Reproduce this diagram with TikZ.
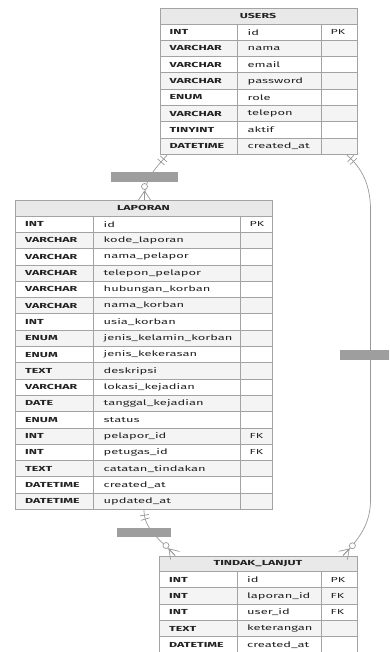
\documentclass[tikz,border=0pt]{standalone}
\usepackage{fontspec}
\setmainfont{Fira Sans}[FakeStretch=1.7]
\usetikzlibrary{calc,decorations.markings}
\definecolor{hdrfill}{HTML}{E9E9E9}
\definecolor{altfill}{HTML}{F4F4F4}
\definecolor{bordc}{HTML}{A3A3A3}
\definecolor{linkc}{HTML}{999999}
\definecolor{lblc}{HTML}{9E9E9E}
\definecolor{txtc}{HTML}{222222}
\tikzset{
 cell/.style={inner sep=0pt, text=txtc, font=\fontsize{7.3}{8}\selectfont, anchor=west},
 namecell/.style={cell, font=\fontsize{7.6}{8}\selectfont},
 typecell/.style={cell, font=\fontsize{7.3}{8}\selectfont\bfseries},
 titlecell/.style={inner sep=0pt, text=txtc, font=\fontsize{7.3}{8}\selectfont\bfseries},
 tabframe/.style={draw=bordc, line width=0.8pt, inner sep=0pt, anchor=north west},
 rel/.style={draw=linkc, line width=0.7pt},
 onestart/.style={postaction={decorate, decoration={markings,
   mark=at position 5pt with {\draw[linkc, line width=0.7pt] (0,-4.5) -- (0,4.5);},
   mark=at position 9pt with {\draw[linkc, line width=0.7pt] (0,-4.5) -- (0,4.5);}}}},
 manyend/.style={postaction={decorate, decoration={markings,
   mark=at position 0.9999 with {\draw[linkc, line width=0.7pt] (-9,0) -- (0,6) (-9,0) -- (0,0) (-9,0) -- (0,-6);
     \draw[linkc, line width=0.7pt, fill=white] (-13.5,0) circle (3);}}}},
 lblbox/.style={fill=lblc, draw=none, inner sep=0pt},
}
\newcommand\ertable[9]{%
 \fill[hdrfill] (#3,#7) rectangle (#6,#7+16);
 \node[titlecell] (#1-title) at ({(#3+#6)/2},#7+8) {#2};
 \foreach \ty/\nm/\ky [count=\i] in {#9} {
   \pgfmathsetmacro\ya{#7+16+(\i-1)*16.3}
   \pgfmathsetmacro\yb{\ya+16.3}
   \pgfmathsetmacro\ym{\ya+8.15}
   \ifodd\i\relax\def\rc{white}\else\def\rc{altfill}\fi
   \fill[\rc] (#3,\ya) rectangle (#6,\yb);
   \draw[bordc, line width=0.8pt] (#3,\ya) -- (#6,\ya) (#4,\ya) -- (#4,\yb) (#5,\ya) -- (#5,\yb);
   \node[typecell] (#1-t\i) at (#3+10,\ym) {\ty};
   \node[namecell] (#1-n\i) at (#4+10,\ym) {\nm};
   \node[cell] (#1-k\i) at (#5+9,\ym) {\ky};
 }
 \node[tabframe, minimum width={(#6-#3)*1pt}, minimum height={(16+#8*16.3)*1pt}] (#1) at (#3,#7) {};
}
\begin{document}
\begin{tikzpicture}[x=1pt,y=-1pt]
\useasboundingbox (0,0) rectangle (389,652);
\clip (0,0) rectangle (389,652);
\fill[white] (0,0) rectangle (389,652);

\ertable{users}{USERS}{159.5}{237.5}{321.5}{356.5}{8}{8}{%
 INT/id/PK, VARCHAR/nama/, VARCHAR/email/, VARCHAR/password/, ENUM/role/,
 VARCHAR/telepon/, TINYINT/aktif/, DATETIME/created\_at/}

\ertable{laporan}{LAPORAN}{15}{93.5}{240.5}{272}{200}{18}{%
 INT/id/PK, VARCHAR/kode\_laporan/, VARCHAR/nama\_pelapor/, VARCHAR/telepon\_pelapor/,
 VARCHAR/hubungan\_korban/, VARCHAR/nama\_korban/, INT/usia\_korban/,
 ENUM/jenis\_kelamin\_korban/, ENUM/jenis\_kekerasan/, TEXT/deskripsi/,
 VARCHAR/lokasi\_kejadian/, DATE/tanggal\_kejadian/, ENUM/status/,
 INT/pelapor\_id/FK, INT/petugas\_id/FK, TEXT/catatan\_tindakan/,
 DATETIME/created\_at/, DATETIME/updated\_at/}

\ertable{tindak}{TINDAK\_LANJUT}{159}{237}{321.5}{357}{555.5}{5}{%
 INT/id/PK, INT/laporan\_id/FK, INT/user\_id/FK, TEXT/keterangan/,
 DATETIME/created\_at/}

\coordinate (u1) at ($(users.south west)+(7.5,0)$);
\coordinate (u2) at ($(users.south west)+(187.5,0)$);
\coordinate (l1) at ($(laporan.north west)+(129.5,0)$);
\coordinate (l2) at ($(laporan.south west)+(129,0)$);
\coordinate (t1) at ($(tindak.north west)+(16,0)$);
\coordinate (t2) at ($(tindak.north west)+(184,0)$);

\draw[rel, onestart, manyend] (u1) .. controls (152,172) and (144.5,180) .. (l1);
\draw[rel, onestart, manyend] (l2) .. controls (144,530) and (161,540) .. (t1);
\draw[rel, onestart, manyend] (u2) .. controls (362,168) and (370.5,185) .. (370.5,210)
  -- (370.5,500) .. controls (370.5,525) and (358,540) .. (t2);

\node[lblbox, minimum width=66.7pt, minimum height=10pt] (lab1) at (144.3,176.7) {};
\node[lblbox, minimum width=53.4pt, minimum height=9pt] (lab2) at (144,532.8) {};
\node[lblbox, minimum width=62pt, minimum height=10pt] (lab3) at (370.5,355) {};
\end{tikzpicture}
\end{document}
